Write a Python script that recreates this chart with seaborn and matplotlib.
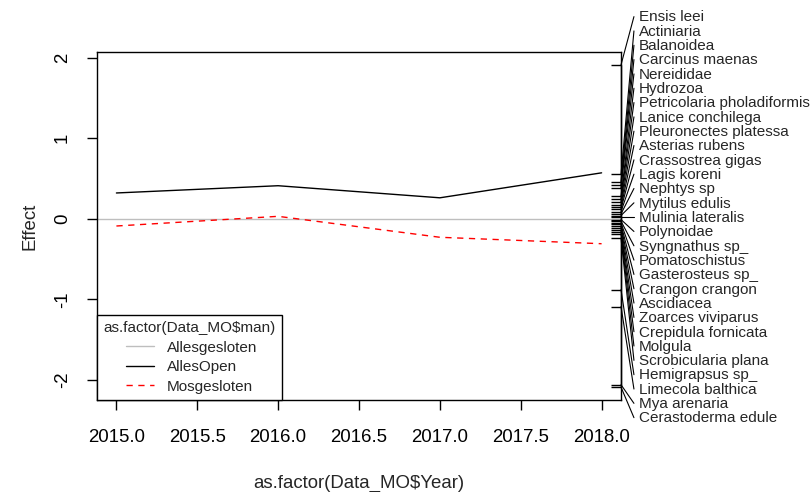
import numpy as np
import pandas as pd
import matplotlib
matplotlib.use("Agg")
import matplotlib.pyplot as plt
from matplotlib.lines import Line2D
from matplotlib.legend_handler import HandlerLine2D
import seaborn as sns

# Principal response curves: treatment effect per year
years = [2015, 2016, 2017, 2018]
treatments = ["Allesgesloten", "AllesOpen", "Mosgesloten"]
effect_allesopen = [0.32, 0.41, 0.26, 0.57]
effect_mosgesloten = [-0.09, 0.03, -0.23, -0.31]

# Species weights on the first PRC axis
species = [
    "Ensis leei", "Actiniaria", "Balanoidea", "Carcinus maenas", "Nereididae",
    "Hydrozoa", "Petricolaria pholadiformis", "Lanice conchilega",
    "Pleuronectes platessa", "Asterias rubens", "Crassostrea gigas",
    "Lagis koreni", "Nephtys sp", "Mytilus edulis", "Mulinia lateralis",
    "Polynoidae", "Syngnathus sp_", "Pomatoschistus", "Gasterosteus sp_",
    "Crangon crangon", "Ascidiacea", "Zoarces viviparus", "Crepidula fornicata",
    "Molgula", "Scrobicularia plana", "Hemigrapsus sp_", "Limecola balthica",
    "Mya arenaria", "Cerastoderma edule",
]
species_scores = [
    1.91, 0.55, 0.46, 0.42, 0.38,
    0.28, 0.25, 0.21,
    0.17, 0.14, 0.12,
    0.09, 0.06, 0.04, 0.02,
    -0.01, -0.03, -0.05, -0.07,
    -0.09, -0.11, -0.14, -0.16,
    -0.19, -0.24, -0.88, -1.09,
    -2.06, -2.09,
]

sns.set_style("white")
plt.rcParams["font.family"] = ["Liberation Sans", "DejaVu Sans"]

W, H = 811, 492
fig = plt.figure(figsize=(W / 100, H / 100), dpi=100)
ax = fig.add_axes([97 / W, 1 - 400 / H, (621 - 97) / W, (400 - 52) / H])

df = pd.DataFrame({
    "Year": years * 2,
    "Effect": effect_allesopen + effect_mosgesloten,
    "man": [treatments[1]] * len(years) + [treatments[2]] * len(years),
})

colors = {treatments[0]: "#bebebe", treatments[1]: "black", treatments[2]: "red"}
dashes = {treatments[1]: "", treatments[2]: (4.5, 4)}

ax.axhline(0, color=colors[treatments[0]], lw=1.0, zorder=1)
sns.lineplot(data=df, x="Year", y="Effect", hue="man", style="man",
             palette={k: colors[k] for k in treatments[1:]},
             dashes=dashes, lw=1.0, legend=False, ax=ax, zorder=3)

xmin, xmax = 2014.88, 2018.12
ax.set_xlim(xmin, xmax)
ax.set_ylim(-2.25, 2.07)

ax.set_xticks(np.arange(2015, 2018.01, 0.5))
ax.set_xticklabels([f"{v:.1f}" for v in np.arange(2015, 2018.01, 0.5)])
ax.set_yticks([-2, -1, 0, 1, 2])
ax.set_yticklabels(["-2", "-1", "0", "1", "2"], rotation=90, va="center")

ax.tick_params(axis="both", direction="out", length=7.2, width=1.0,
               labelsize=13.4, color="black", labelcolor="black",
               left=True, bottom=True)
ax.tick_params(axis="y", pad=11.5)
ax.tick_params(axis="x", pad=13.5)

for s in ax.spines.values():
    s.set_visible(True)
    s.set_color("black")
    s.set_linewidth(1.0)

ax.set_xlabel(r"as.factor(Data_MO\$Year)", fontsize=13.4, labelpad=21)
ax.set_ylabel("Effect", fontsize=13.4, labelpad=11)

# Rug of species weights along the right edge
ax.hlines(species_scores, 1 - 0.019, 1, transform=ax.get_yaxis_transform(),
          color="black", lw=1.0, clip_on=False, zorder=4)

# Stacked species labels with leader lines
vals = np.array(species_scores)
order = np.argsort(vals)
xs = vals[order]
n = len(xs)
ht = 0.1778
pos = np.empty(n)
mid = (n + 1) // 2 - 1
pos[mid] = xs[mid]
for i in range(mid + 1, n):
    pos[i] = max(xs[i], pos[i - 1] + ht)
for i in range(mid - 1, -1, -1):
    pos[i] = min(xs[i], pos[i + 1] - ht)

hoff = 0.080
ax.plot([xmax, xmax], [xs.min(), xs.max()], color="black", lw=1.0,
        clip_on=False, zorder=4)
for k, idx in enumerate(order):
    ax.plot([xmax, xmax + hoff], [xs[k], pos[k]], color="black", lw=0.8,
            clip_on=False, zorder=4)
    ax.text(xmax + hoff + 0.03, pos[k] - 0.01, species[idx], fontsize=11,
            ha="left", va="center", clip_on=False)

# Legend
handles = [Line2D([], [], color=colors[t], lw=1.0,
                  linestyle=(0, (4.5, 4)) if t == treatments[2] else "-")
           for t in treatments]
leg = ax.legend(handles, treatments, title=r"as.factor(Data_MO\$man)",
                loc="lower left", borderaxespad=0, fontsize=11,
                title_fontsize=11, alignment="left", frameon=True,
                fancybox=False, shadow=False, framealpha=1,
                edgecolor="black", handlelength=3.3, handletextpad=0.85,
                borderpad=0.42, labelspacing=0.36,
                handler_map={Line2D: HandlerLine2D(xpad=1.45)})
leg.get_frame().set_linewidth(1.0)

fig.savefig("out.png", dpi=100)
